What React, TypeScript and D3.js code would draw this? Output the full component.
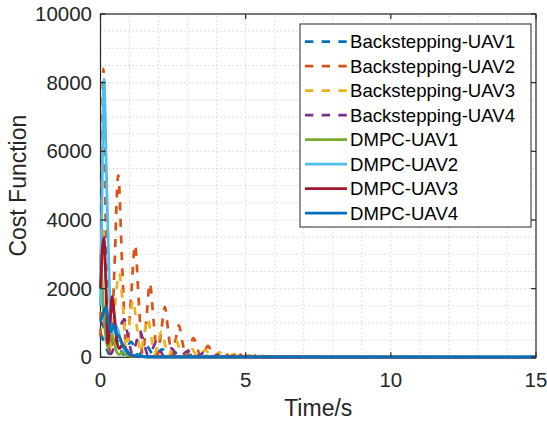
import React from "react";
import * as d3 from "d3";

// ---- Data ----
const bs1Time = [0, 0.15, 0.3, 0.55, 0.8, 1.05, 1.3, 1.58, 1.85, 2.12, 2.4, 2.68, 2.95, 3.22, 3.5, 3.78, 4.05, 4.35, 4.65, 5, 5.5, 6, 7, 15];
const bs1Cost = [700, 400, 100, 500, 80, 450, 60, 330, 40, 230, 30, 150, 20, 100, 15, 60, 10, 35, 6, 15, 3, 6, 0, 0];

const bs2Time = [0, 0.05, 0.1, 0.16, 0.23, 0.35, 0.48, 0.61, 0.75, 0.9, 1.05, 1.19, 1.32, 1.45, 1.58, 1.7, 1.83, 1.96, 2.09, 2.22, 2.34, 2.46, 2.58, 2.7, 2.82, 2.95, 3.08, 3.2, 3.33, 3.45, 3.58, 3.7, 3.83, 3.95, 4.08, 4.2, 4.33, 4.45, 4.58, 4.7, 4.83, 4.95, 5.2, 5.45, 5.7, 5.95, 6.2, 6.45, 6.7, 6.95, 7.2, 7.5, 8, 8.5, 9, 10, 15];
const bs2Cost = [600, 5500, 8400, 5000, 1500, 100, 2600, 5300, 2600, 100, 1700, 3270, 1600, 80, 1100, 2160, 1050, 60, 750, 1460, 700, 40, 480, 930, 450, 30, 300, 560, 280, 20, 180, 330, 160, 15, 120, 220, 110, 10, 80, 150, 70, 8, 95, 5, 60, 4, 38, 3, 24, 2, 15, 2, 8, 1, 3, 0, 0];

const bs3Time = [0, 0.05, 0.1, 0.18, 0.37, 0.5, 0.64, 0.78, 0.88, 1.0, 1.12, 1.25, 1.38, 1.5, 1.63, 1.75, 1.87, 1.98, 2.1, 2.22, 2.35, 2.47, 2.6, 2.72, 2.85, 2.97, 3.1, 3.22, 3.35, 3.6, 3.85, 4.1, 4.35, 4.6, 4.85, 5.1, 5.35, 5.6, 5.85, 6.1, 6.5, 7, 8, 9, 15];
const bs3Cost = [1600, 3200, 3700, 2200, 300, 1500, 2450, 1400, 250, 1000, 1660, 900, 150, 650, 1130, 600, 100, 420, 750, 380, 60, 280, 500, 250, 40, 180, 330, 160, 25, 210, 15, 140, 10, 90, 6, 60, 4, 40, 3, 25, 2, 10, 2, 0, 0];

const bs4Time = [0, 0.1, 0.35, 0.6, 0.82, 0.95, 1.1, 1.22, 1.36, 1.5, 1.64, 1.78, 1.92, 2.05, 2.18, 2.32, 2.45, 2.58, 2.72, 2.86, 3.0, 3.14, 3.28, 3.42, 3.55, 3.7, 3.82, 4.1, 4.37, 4.65, 4.92, 5.2, 5.5, 5.8, 6.3, 7, 8, 15];
const bs4Cost = [1050, 900, 100, 700, 1100, 600, 100, 400, 760, 400, 60, 230, 430, 220, 40, 140, 260, 130, 30, 100, 180, 90, 20, 70, 130, 60, 15, 80, 10, 50, 6, 30, 4, 15, 2, 5, 0, 0];

const dm1Time = [0, 0.05, 0.1, 0.17, 0.25, 0.33, 0.4, 0.48, 0.56, 0.65, 0.75, 0.85, 1.0, 1.3, 2, 15];
const dm1Cost = [3000, 2300, 1400, 700, 300, 550, 650, 400, 150, 80, 150, 100, 40, 20, 10, 5];

const dm2Time = [0, 0.05, 0.12, 0.2, 0.3, 0.4, 0.5, 0.6, 0.72, 0.85, 1.0, 1.2, 1.6, 2.5, 15];
const dm2Cost = [1500, 4500, 8100, 5500, 2250, 700, 950, 800, 400, 180, 80, 40, 15, 5, 2];

const dm3Time = [0, 0.06, 0.12, 0.18, 0.25, 0.32, 0.4, 0.48, 0.56, 0.65, 0.75, 0.85, 0.95, 1.1, 1.4, 2, 15];
const dm3Cost = [2000, 3100, 3500, 2300, 400, 900, 1770, 1200, 500, 250, 350, 280, 120, 50, 20, 10, 5];

const dm4Time = [0, 0.1, 0.19, 0.28, 0.36, 0.45, 0.55, 0.65, 0.75, 0.85, 0.95, 1.1, 1.3, 2, 15];
const dm4Cost = [1040, 1300, 1475, 1000, 750, 950, 700, 600, 400, 250, 150, 60, 30, 12, 10];

const seriesNames = [
  "Backstepping-UAV1", "Backstepping-UAV2", "Backstepping-UAV3", "Backstepping-UAV4",
  "DMPC-UAV1", "DMPC-UAV2", "DMPC-UAV3", "DMPC-UAV4",
];
const seriesColors = ["#0072BD", "#D95319", "#EDB120", "#7E2F8E", "#77AC30", "#4DBEEE", "#A2142F", "#0072BD"];
const seriesDashed = [true, true, true, true, false, false, false, false];
const seriesTimes = [bs1Time, bs2Time, bs3Time, bs4Time, dm1Time, dm2Time, dm3Time, dm4Time];
const seriesCosts = [bs1Cost, bs2Cost, bs3Cost, bs4Cost, dm1Cost, dm2Cost, dm3Cost, dm4Cost];

const xTicks = [0, 5, 10, 15];
const yTicks = [0, 2000, 4000, 6000, 8000, 10000];
const xMinor = d3.range(0, 16, 1);
const yMinor = d3.range(0, 10001, 500);

const FONT = "Arimo, 'Liberation Sans', Arial, Helvetica, sans-serif";
const AX = "#262626";

export default function App() {
  const W = 547, H = 424;
  const x = d3.scaleLinear().domain([0, 15]).range([100.5, 536]);
  const y = d3.scaleLinear().domain([0, 10000]).range([357.3, 14]);
  const [x0, x1] = x.range();
  const [y0, y1] = y.range();

  const line = d3.line<[number, number]>()
    .x((d) => x(d[0]))
    .y((d) => y(d[1]))
    .curve(d3.curveMonotoneX);

  const series = seriesNames.map((name, i) => ({
    name,
    color: seriesColors[i],
    dashed: seriesDashed[i],
    pts: seriesTimes[i].map((t, j) => [t, seriesCosts[i][j]] as [number, number]),
  }));

  const legX = 300, legY = 24, legW = 231, legH = 203;
  const rowY0 = 41.7, rowStep = 24.5;

  return (
    <svg width={W} height={H} style={{ position: "absolute", left: 0, top: 0, background: "#fff" }}
      fontFamily={FONT}>
      <rect x={0} y={0} width={W} height={H} fill="#fff" />
      <rect x={x0} y={y1} width={x1 - x0} height={y0 - y1} fill="#fff" />
      {/* grid */}
      <g stroke="#d4d4d4" strokeWidth={1} strokeDasharray="1.5 2.5">
        {xMinor.map((t) => (
          <line key={"gx" + t} x1={x(t)} x2={x(t)} y1={y0} y2={y1} />
        ))}
        {yMinor.map((v) => (
          <line key={"gy" + v} x1={x0} x2={x1} y1={y(v)} y2={y(v)} />
        ))}
      </g>
      {/* axes box */}
      <rect x={x0} y={y1} width={x1 - x0} height={y0 - y1} fill="none" stroke={AX} strokeWidth={1.2} />
      {/* series */}
      <g fill="none">
        {series.map((s) => (
          <path key={s.name} d={line(s.pts) || ""} stroke={s.color}
            strokeWidth={s.dashed ? 2.7 : 2.8} strokeDasharray={s.dashed ? "8 8.5" : undefined}
            strokeLinejoin="round" />
        ))}
      </g>
      {/* ticks */}
      <g stroke={AX} strokeWidth={1.2}>
        {xTicks.map((t) => (
          <g key={"xt" + t}>
            <line x1={x(t)} x2={x(t)} y1={y0} y2={y0 - 5} />
            <line x1={x(t)} x2={x(t)} y1={y1} y2={y1 + 5} />
          </g>
        ))}
        {yTicks.map((v) => (
          <g key={"yt" + v}>
            <line x1={x0} x2={x0 + 5} y1={y(v)} y2={y(v)} />
            <line x1={x1} x2={x1 - 5} y1={y(v)} y2={y(v)} />
          </g>
        ))}
      </g>
      {/* tick labels */}
      <g fill={AX} fontSize={20.5}>
        {xTicks.map((t) => (
          <text key={"xl" + t} x={x(t)} y={387} textAnchor="middle">{t}</text>
        ))}
        {yTicks.map((v) => (
          <text key={"yl" + v} x={92} y={y(v)} dy="0.35em" textAnchor="end">{v}</text>
        ))}
      </g>
      {/* axis labels */}
      <text x={(x0 + x1) / 2} y={416} textAnchor="middle" fontSize={23} fill={AX}>Time/s</text>
      <text transform={`translate(26,${(y0 + y1) / 2}) rotate(-90)`} textAnchor="middle" fontSize={23} fill={AX}>Cost Function</text>
      {/* legend */}
      <rect x={legX} y={legY} width={legW} height={legH} fill="#fff" stroke={AX} strokeWidth={1} />
      {series.map((s, i) => {
        const ry = rowY0 + i * rowStep;
        return (
          <g key={"lg" + s.name}>
            <line x1={305} x2={347} y1={ry} y2={ry} stroke={s.color} strokeWidth={2.7}
              strokeDasharray={s.dashed ? "8.3 8.4" : undefined} />
            <text x={350} y={ry} dy="0.35em" fontSize={18.6} fill="#000">{s.name}</text>
          </g>
        );
      })}
    </svg>
  );
}
